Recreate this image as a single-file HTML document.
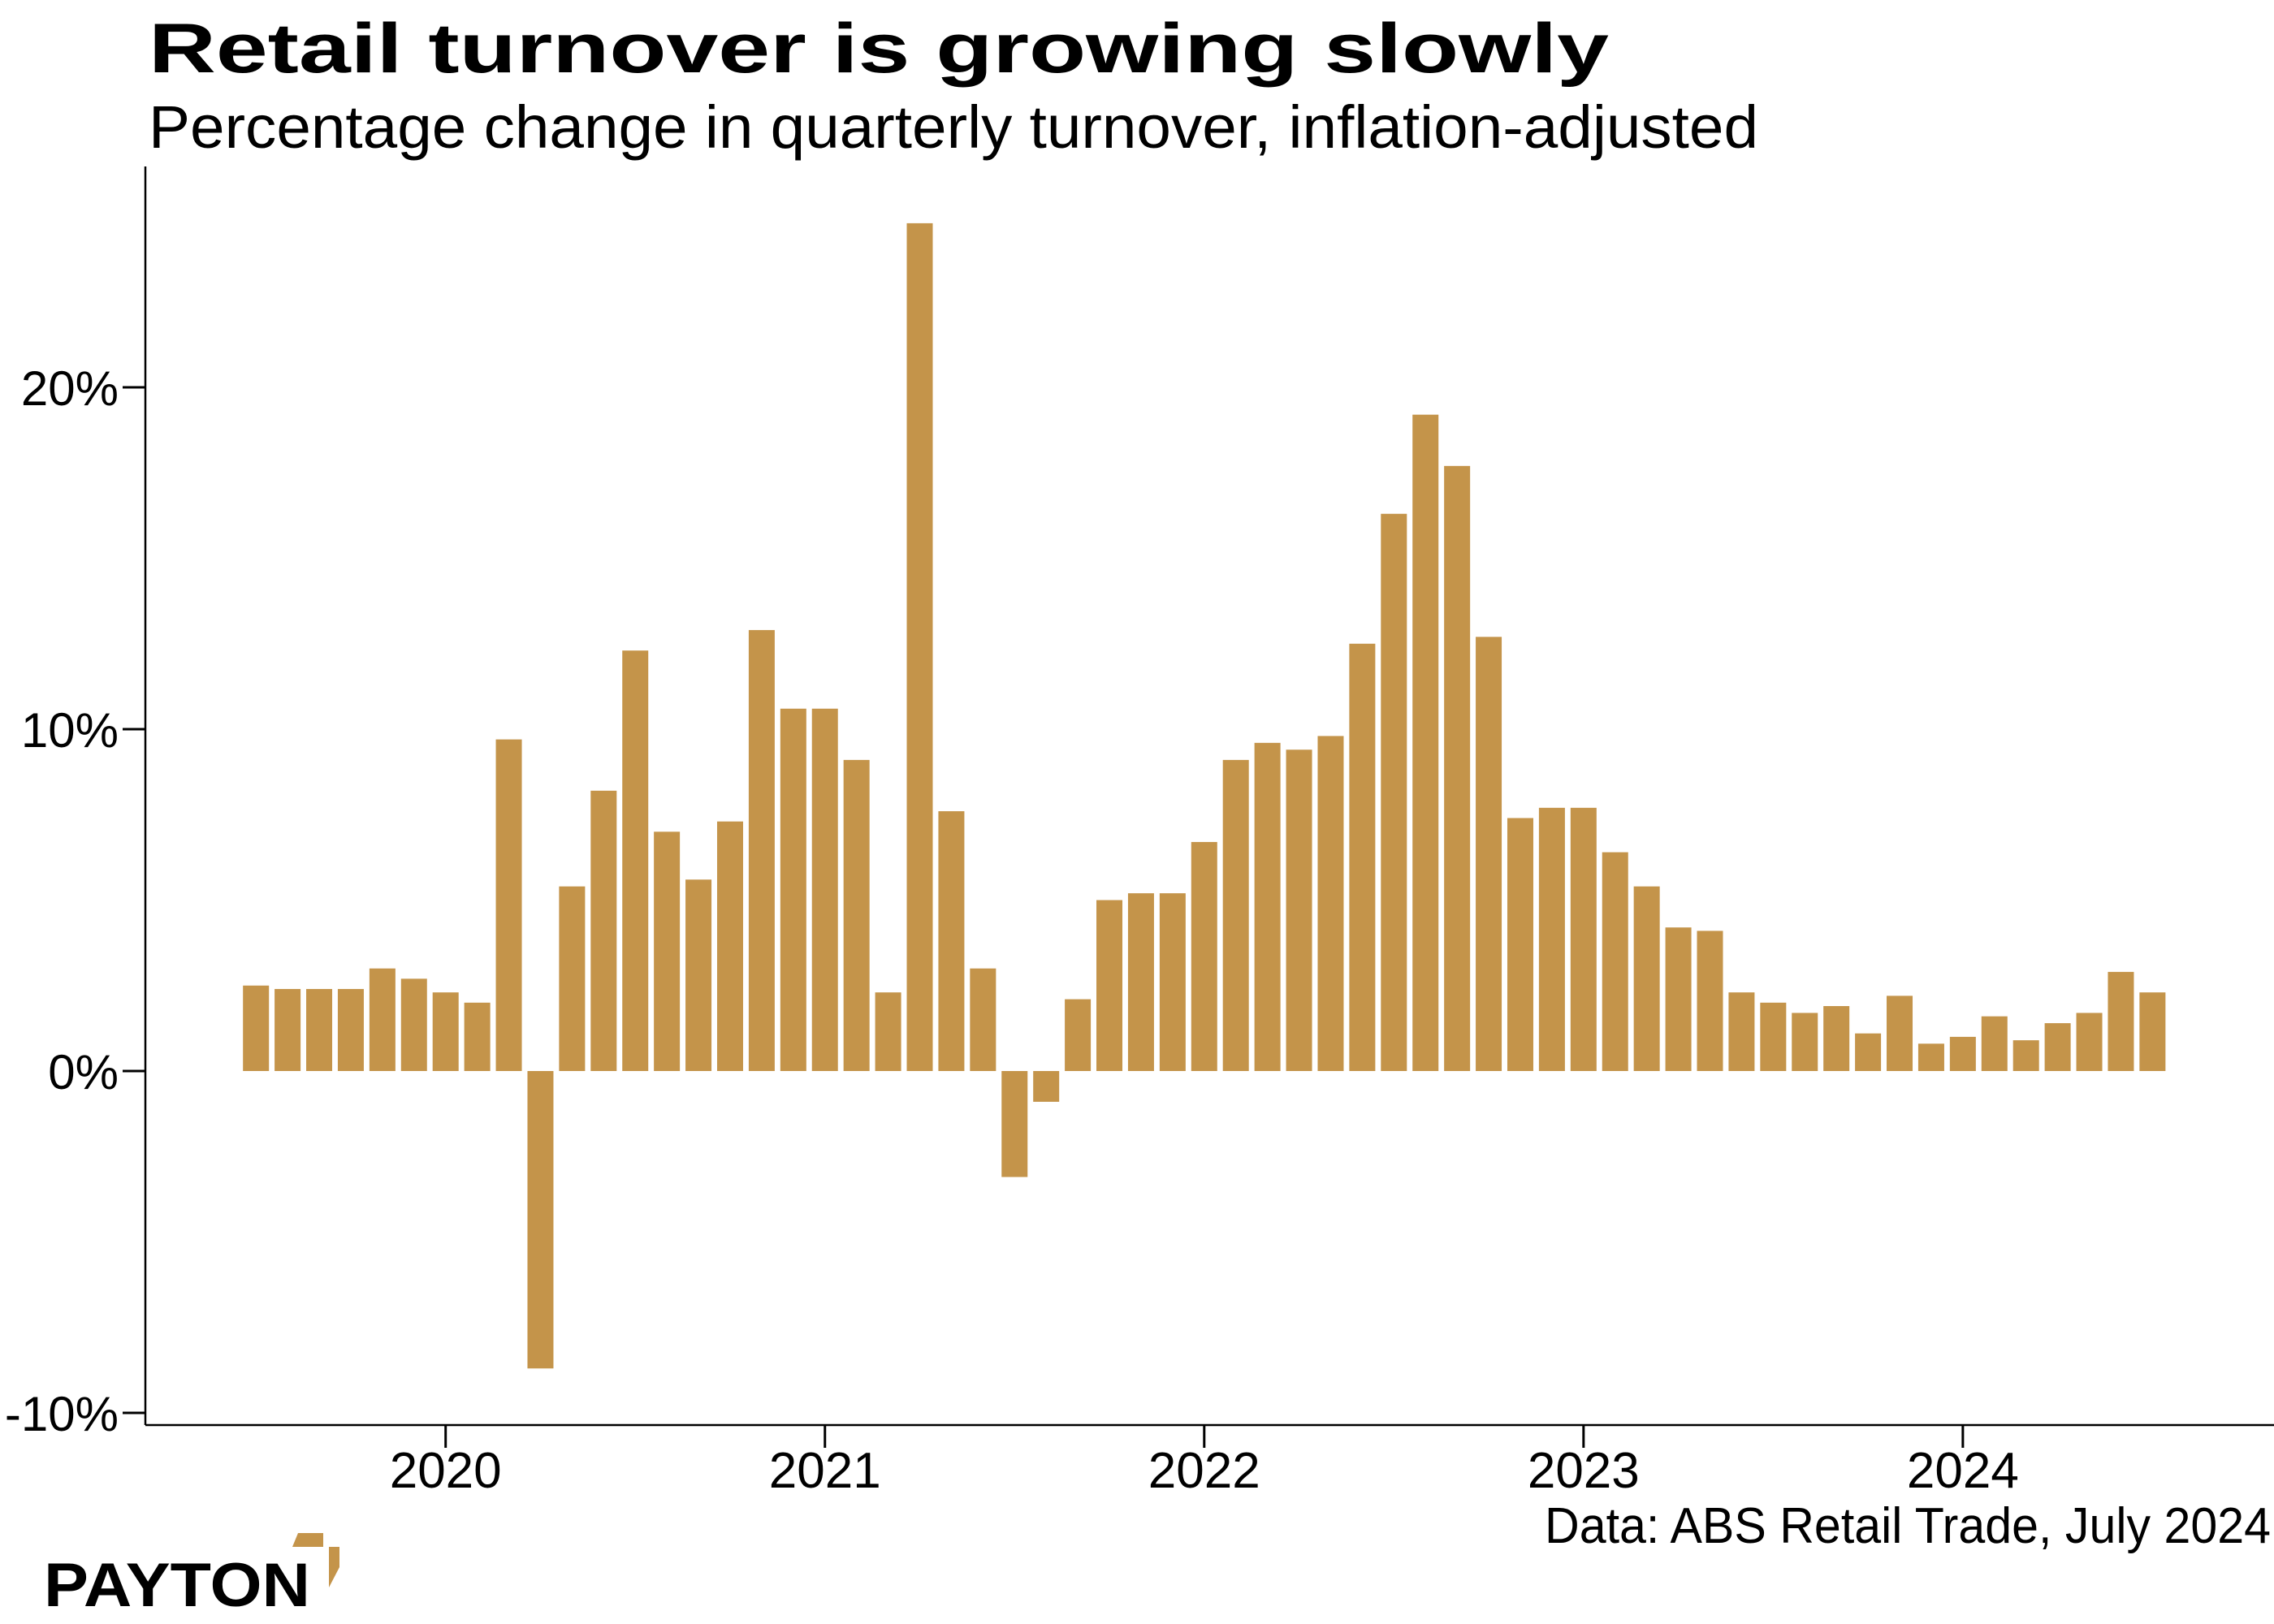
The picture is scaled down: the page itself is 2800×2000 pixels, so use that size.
<!DOCTYPE html>
<html><head><meta charset="utf-8">
<style>
html,body{margin:0;padding:0;background:#fff;}
svg{display:block;}
text{font-family:"Liberation Sans",sans-serif;fill:#000;}
</style></head>
<body>
<svg id="chart" width="2800" height="2000" viewBox="0 0 2800 2000" xmlns="http://www.w3.org/2000/svg">
<rect width="2800" height="2000" fill="#fff"/>
<text x="183" y="89" font-size="86" font-weight="bold" textLength="1798" lengthAdjust="spacingAndGlyphs">Retail turnover is growing slowly</text>
<text x="183" y="182" font-size="74" textLength="1982" lengthAdjust="spacingAndGlyphs">Percentage change in quarterly turnover, inflation-adjusted</text>
<g id="bars"></g>
<g id="yaxis"></g>
<g id="xaxis"></g>
<text x="2796" y="1900" font-size="62" text-anchor="end" textLength="894" lengthAdjust="spacingAndGlyphs">Data: ABS Retail Trade, July 2024</text>
<g>
<text x="54" y="1978" font-size="76" font-weight="bold" textLength="328" lengthAdjust="spacingAndGlyphs">PAYTON</text>
<polygon points="360,1905 367,1888 398,1888 398,1905" fill="#c4944a"/>
<polygon points="405,1905 418,1905 418,1930 405,1955" fill="#c4944a"/>
</g>
</svg>
<script>
// Data (monthly observations, Jul 2019 .. Jul 2024)
const startYear = 2019;
const startMonth = 6; // July (0-indexed)
const values = [2.5,2.4,2.4,2.4,3.0,2.7,2.3,2.0,9.7,-8.7,5.4,8.2,12.3,7.0,5.6,7.3,12.9,10.6,10.6,9.1,2.3,24.8,7.6,3.0,-3.1,-0.9,2.1,5.0,5.2,5.2,6.7,9.1,9.6,9.4,9.8,12.5,16.3,19.2,17.7,12.7,7.4,7.7,7.7,6.4,5.4,4.2,4.1,2.3,2.0,1.7,1.9,1.1,2.2,0.8,1.0,1.6,0.9,1.4,1.7,2.9,2.3];
const yTicks = [-10,0,10,20];
const yTickLabels = ["-10%","0%","10%","20%"];
const xTickYears = [2020,2021,2022,2023,2024];
const xTickLabels = ["2020","2021","2022","2023","2024"];

const NS = "http://www.w3.org/2000/svg";
const X0 = 548.7, PX_PER_MONTH = 38.92;   // Jan 2020 position
const Y0 = 1319, PX_PER_PCT = 42.1;
const BAR_W = 32;
function xScale(monthsSince2020){ return X0 + monthsSince2020*PX_PER_MONTH; }
function yScale(v){ return Y0 - v*PX_PER_PCT; }
function mk(tag, attrs){ const e=document.createElementNS(NS,tag); for(const k in attrs) e.setAttribute(k,attrs[k]); return e; }

const barsG = document.getElementById('bars');
values.forEach((v,i)=>{
  const m = (startYear-2020)*12 + startMonth + i;
  const cx = xScale(m);
  const y1 = yScale(Math.max(v,0)), y2 = yScale(Math.min(v,0));
  const r = mk('rect',{x:cx-BAR_W/2,y:y1,width:BAR_W,height:Math.max(y2-y1,0.5),fill:'#c4944a'});
  
  
  barsG.appendChild(r);
});

const yG = document.getElementById('yaxis');
const yLine = mk('line',{x1:179,y1:205,x2:179,y2:1755,stroke:'#000','stroke-width':2.5});


yG.appendChild(yLine);
yTicks.forEach((t,i)=>{
  const y = yScale(t);
  const tk = mk('line',{x1:151,y1:y,x2:179,y2:y,stroke:'#000','stroke-width':3});
  
  
  yG.appendChild(tk);
  const tx = mk('text',{x:146,y:y+22,'font-size':60,'text-anchor':'end'});
  tx.textContent = yTickLabels[i];
  
  
  yG.appendChild(tx);
});

const xG = document.getElementById('xaxis');
const xLine = mk('line',{x1:179,y1:1755,x2:2800,y2:1755,stroke:'#000','stroke-width':2.5});


xG.appendChild(xLine);
xTickYears.forEach((yr,i)=>{
  const x = xScale((yr-2020)*12);
  const tk = mk('line',{x1:x,y1:1755,x2:x,y2:1783,stroke:'#000','stroke-width':3});
  
  
  xG.appendChild(tk);
  const tx = mk('text',{x:x,y:1832,'font-size':62,'text-anchor':'middle'});
  tx.textContent = xTickLabels[i];
  
  
  xG.appendChild(tx);
});
</script>
</body></html>
